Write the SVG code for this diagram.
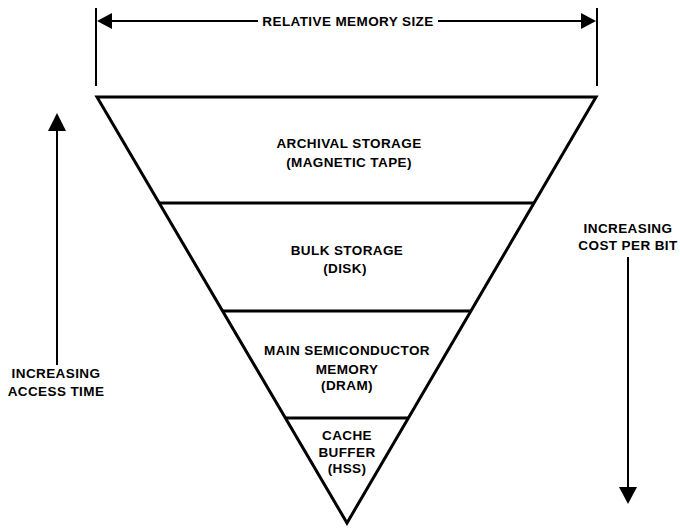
<svg xmlns="http://www.w3.org/2000/svg" width="680" height="528" viewBox="0 0 680 528">
<style>
text{font-family:"Liberation Sans",Arial,sans-serif;font-weight:bold;font-size:13.5px;fill:#000;text-anchor:middle;letter-spacing:0.4px}
.edge{stroke:#000;stroke-width:3;fill:none;stroke-linejoin:miter}
.lvl{stroke:#000;stroke-width:3}
.dim{stroke:#000;stroke-width:2;fill:none}
</style>
<defs>
<marker id="ah" viewBox="0 0 10 10" refX="10" refY="5" markerWidth="9" markerHeight="9" markerUnits="userSpaceOnUse" orient="auto">
<path d="M0,0 L10,5 L0,10 Z" fill="#000"/>
</marker>
</defs>
<rect width="680" height="528" fill="#fff"/>
<g id="connectors">
<line class="dim" x1="96" y1="8" x2="96" y2="86"/>
<line class="dim" x1="597" y1="8" x2="597" y2="86"/>
<line class="dim" x1="258" y1="21" x2="112" y2="21"/>
<path d="M112,13 L97,21 L112,29 Z" fill="#000"/>
<line class="dim" x1="438" y1="21" x2="581" y2="21"/>
<path d="M581,13 L596,21 L581,29 Z" fill="#000"/>
<line class="dim" x1="57" y1="365" x2="57" y2="130"/>
<path d="M48,131 L57,113 L66,131 Z" fill="#000"/>
<line class="dim" x1="628" y1="257" x2="628" y2="488"/>
<path d="M619,487 L628,504 L637,487 Z" fill="#000"/>
</g>
<g id="pyramid">
<path class="edge" d="M97,97 L596,97 L347,523 Z"/>
</g>
<g id="archival">
<line class="lvl" x1="159" y1="203" x2="534" y2="203"/>
<text x="349" y="148">ARCHIVAL STORAGE</text>
<text x="349" y="167">(MAGNETIC TAPE)</text>
</g>
<g id="bulk">
<line class="lvl" x1="222" y1="311" x2="471" y2="311"/>
<text x="347" y="255">BULK STORAGE</text>
<text x="345" y="273">(DISK)</text>
</g>
<g id="main">
<line class="lvl" x1="285" y1="418" x2="409" y2="418"/>
<text x="347" y="355">MAIN SEMICONDUCTOR</text>
<text x="347" y="374">MEMORY</text>
<text x="347" y="390">(DRAM)</text>
</g>
<g id="cache">
<text x="347" y="440">CACHE</text>
<text x="347" y="457">BUFFER</text>
<text x="347" y="473">(HSS)</text>
</g>
<g id="size-label">
<text x="348" y="26">RELATIVE MEMORY SIZE</text>
</g>
<g id="access-label">
<text x="56" y="378">INCREASING</text>
<text x="56" y="396">ACCESS TIME</text>
</g>
<g id="cost-label">
<text x="628" y="233">INCREASING</text>
<text x="628" y="250">COST PER BIT</text>
</g>
</svg>
